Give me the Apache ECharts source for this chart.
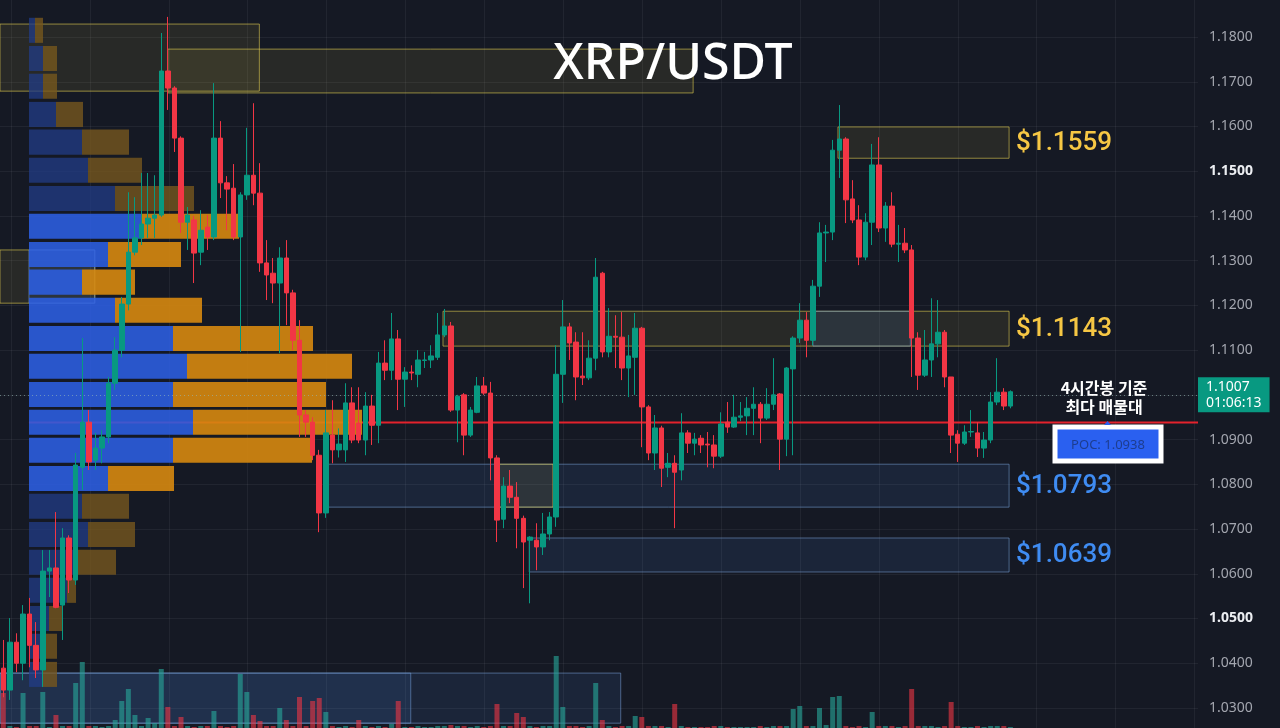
<!DOCTYPE html>
<html>
<head>
<meta charset="utf-8">
<title>XRP/USDT</title>
<script src="https://cdn.jsdelivr.net/npm/echarts@6/dist/echarts.min.js"></script>
<style>
html, body { margin: 0; padding: 0; background: #151924; }
#chart { width: 1280px; height: 728px; }
</style>
</head>
<body>
<div id="chart"></div>
<script>
// 4h candles: [open, close, low, high]
var candles = [
  [1.0389,1.0340,1.0324,1.0452],[1.0340,1.0447,1.0318,1.0501],[1.0447,1.0400,1.0380,1.0467],[1.0400,1.0510,1.0362,1.0530],
  [1.0510,1.0440,1.0391,1.0546],[1.0440,1.0385,1.0367,1.0492],[1.0385,1.0606,1.0347,1.0653],[1.0606,1.0613,1.0548,1.0653],
  [1.0613,1.0525,1.0523,1.0738],[1.0530,1.0680,1.0452,1.0702],[1.0680,1.0586,1.0557,1.0686],[1.0586,1.0843,1.0575,1.0870],
  [1.0838,1.0939,1.0787,1.1127],[1.0939,1.0850,1.0832,1.0966],[1.0854,1.0881,1.0832,1.0915],[1.0881,1.0906,1.0847,1.0921],
  [1.0906,1.1026,1.0892,1.1040],[1.1026,1.1100,1.1011,1.1129],[1.1100,1.1203,1.1084,1.1219],[1.1203,1.1319,1.1189,1.1453],
  [1.1319,1.1351,1.1312,1.1442],[1.1351,1.1382,1.1335,1.1496],[1.1382,1.1395,1.1351,1.1496],[1.1395,1.1402,1.1351,1.1491],
  [1.1402,1.1724,1.1398,1.1809],[1.1724,1.1686,1.1637,1.1845],[1.1686,1.1574,1.1543,1.1690],[1.1574,1.1386,1.1362,1.1578],
  [1.1386,1.1402,1.1324,1.1420],[1.1391,1.1317,1.1250,1.1400],[1.1319,1.1368,1.1290,1.1413],[1.1375,1.1353,1.1324,1.1402],
  [1.1353,1.1574,1.1346,1.1697],[1.1574,1.1474,1.1440,1.1612],[1.1474,1.1460,1.1368,1.1489],[1.1462,1.1353,1.1346,1.1516],
  [1.1353,1.1447,1.1096,1.1453],[1.1447,1.1491,1.1436,1.1597],[1.1491,1.1451,1.1424,1.1652],[1.1451,1.1295,1.1275,1.1518],
  [1.1295,1.1268,1.1212,1.1346],[1.1272,1.1250,1.1205,1.1306],[1.1250,1.1306,1.1093,1.1330],[1.1306,1.1228,1.1156,1.1346],
  [1.1228,1.1122,1.1100,1.1235],[1.1122,1.0955,1.0906,1.1167],[1.0955,1.0939,1.0906,1.0966],[1.0939,1.0865,1.0854,1.0950],
  [1.0865,1.0736,1.0693,1.0877],[1.0736,1.0915,1.0725,1.0966],[1.0910,1.0877,1.0847,1.0988],[1.0877,1.0890,1.0860,1.0925],
  [1.0877,1.0982,1.0850,1.1026],[1.0982,1.0899,1.0892,1.1017],[1.0937,1.0899,1.0892,1.1017],[1.0899,1.0975,1.0865,1.1006],
  [1.0975,1.0932,1.0888,1.1000],[1.0932,1.1071,1.0892,1.1096],[1.1071,1.1055,1.1033,1.1122],[1.1055,1.1125,1.1033,1.1183],
  [1.1125,1.1035,1.0966,1.1145],[1.1035,1.1051,1.0973,1.1062],[1.1051,1.1049,1.1033,1.1066],[1.1046,1.1078,1.1017,1.1100],
  [1.1077,1.1078,1.1060,1.1096],[1.1078,1.1087,1.1060,1.1111],[1.1084,1.1134,1.1078,1.1183],[1.1134,1.1154,1.1129,1.1192],
  [1.1154,1.0966,1.0962,1.1163],[1.0966,1.0997,1.0894,1.1000],[1.1000,1.0910,1.0865,1.1004],[1.0910,1.0966,1.0906,1.0973],
  [1.0961,1.1020,1.0959,1.1040],[1.1020,1.1004,1.1000,1.1040],[1.1004,1.0859,1.0809,1.1029],[1.0859,1.0720,1.0671,1.0865],
  [1.0722,1.0796,1.0702,1.0816],[1.0796,1.0771,1.0758,1.0832],[1.0771,1.0724,1.0657,1.0805],[1.0724,1.0671,1.0568,1.0730],
  [1.0675,1.0682,1.0534,1.0684],[1.0675,1.0660,1.0608,1.0713],[1.0660,1.0689,1.0642,1.0736],[1.0689,1.0727,1.0675,1.0738],
  [1.0727,1.1046,1.0705,1.1111],[1.1046,1.1152,1.0982,1.1212],[1.1152,1.1116,1.1078,1.1161],[1.1118,1.1040,1.0988,1.1140],
  [1.1042,1.1038,1.1022,1.1140],[1.1038,1.1082,1.1033,1.1122],[1.1082,1.1263,1.1055,1.1306],[1.1272,1.1096,1.1084,1.1275],
  [1.1096,1.1131,1.1084,1.1194],[1.1131,1.1129,1.1060,1.1178],[1.1129,1.1060,1.1033,1.1185],[1.1060,1.1087,1.0995,1.1134],
  [1.1084,1.1149,1.1000,1.1183],[1.1149,1.0973,1.0883,1.1152],[1.0973,1.0870,1.0854,1.0977],[1.0870,1.0926,1.0832,1.0955],
  [1.0926,1.0836,1.0794,1.0931],[1.0838,1.0847,1.0816,1.0870],[1.0847,1.0827,1.0702,1.0865],[1.0832,1.0915,1.0809,1.0959],
  [1.0915,1.0892,1.0870,1.0921],[1.0892,1.0901,1.0865,1.0915],[1.0903,1.0888,1.0870,1.0910],[1.0890,1.0888,1.0838,1.0917],
  [1.0888,1.0863,1.0836,1.0910],[1.0863,1.0935,1.0859,1.0961],[1.0939,1.0928,1.0915,1.0984],[1.0928,1.0950,1.0926,1.1000],
  [1.0950,1.0953,1.0941,1.0984],[1.0953,1.0970,1.0910,1.0995],[1.0970,1.0979,1.0910,1.1017],[1.0979,1.0948,1.0892,1.0984],
  [1.0948,1.0979,1.0944,1.1015],[1.0979,1.1000,1.0966,1.1082],[1.1002,1.0901,1.0832,1.1004],[1.0901,1.1060,1.0863,1.1062],
  [1.1058,1.1127,1.0865,1.1131],[1.1127,1.1167,1.1116,1.1205],[1.1167,1.1122,1.1084,1.1185],[1.1122,1.1243,1.1111,1.1257],
  [1.1243,1.1362,1.1219,1.1386],[1.1362,1.1364,1.1297,1.1380],[1.1364,1.1547,1.1346,1.1570],[1.1547,1.1572,1.1485,1.1648],
  [1.1572,1.1436,1.1384,1.1576],[1.1438,1.1391,1.1384,1.1480],[1.1391,1.1308,1.1290,1.1424],[1.1308,1.1386,1.1301,1.1406],
  [1.1386,1.1514,1.1335,1.1561],[1.1514,1.1373,1.1364,1.1576],[1.1373,1.1422,1.1342,1.1431],[1.1422,1.1337,1.1330,1.1453],
  [1.1337,1.1339,1.1297,1.1380],[1.1339,1.1324,1.1317,1.1373],[1.1324,1.1127,1.1040,1.1335],[1.1127,1.1044,1.1011,1.1140],
  [1.1044,1.1078,1.1040,1.1145],[1.1078,1.1114,1.1040,1.1216],[1.1114,1.1140,1.1084,1.1212],[1.1140,1.1040,1.1017,1.1145],
  [1.1040,1.0910,1.0870,1.1040],[1.0912,1.0892,1.0850,1.0921],[1.0892,1.0917,1.0888,1.0932],[1.0917,1.0918,1.0906,1.0966],
  [1.0915,1.0881,1.0861,1.0939],[1.0881,1.0899,1.0859,1.0917],[1.0899,1.0984,1.0892,1.1006],[1.0984,1.1006,1.0977,1.1082],
  [1.1006,1.0975,1.0966,1.1015],[1.0975,1.1007,1.0970,1.1010]
];

var volumes = [
  35,2,1,35,2,2,36,1,13,2, 2,45,66,2,2,1,2,8,27,39,
  13,2,10,5,59,21,2,11,2,1, 2,2,17,2,1,2,54,36,13,7,
  2,2,20,8,2,31,2,27,30,16, 2,1,2,1,8,2,1,2,1,4,
  27,1,1,2,1,1,2,2,3,2, 2,1,2,1,2,24,2,2,15,11,
  2,1,2,2,72,21,2,2,1,2, 45,8,2,1,2,2,12,11,2,2,
  2,1,24,2,1,1,1,1,2,2, 1,1,1,1,1,2,1,2,2,2,
  19,22,2,2,20,3,31,32,2,1, 2,1,16,2,2,2,1,2,39,2,
  2,2,1,2,26,2,1,1,2,1, 2,2,2,1
];

var lastPrice = 1.1007;
var lastTimer = '01:06:13';
var pocPrice = 1.0938;

// visible range volume profile: row centre price, buy and sell volume
var profileLevels = [1.1815,1.1752,1.1690,1.1627,1.1565,1.1502,1.1439,1.1377,1.1314,1.1252,1.1189,1.1126,
                     1.1064,1.1001,1.0939,1.0876,1.0813,1.0751,1.0688,1.0626,1.0563,1.0500,1.0438,1.0375];
var profileBuy  = [6,14,14,27,53,59,86,113,79,53,86,144,158,144,164,144,79,53,59,49,38,20,17,14];
var profileSell = [8,14,14,27,47,54,79,97,73,53,87,140,165,153,169,139,66,47,47,38,9,13,11,14];
var valueArea = [7, 16];

// zones: [from bar, to bar, top, bottom, kind, label]
var zones = [
  [-0.5, 38.9, 1.1829, 1.1679, 'y', ''],
  [25, 104.8, 1.1773, 1.1675, 'y', ''],
  [-0.5, 13.9, 1.1324, 1.1205, 'y', ''],
  [3.9, 13.9, 1.1324, 1.1205, 'b', ''],
  [66.8, 152.8, 1.1187, 1.1109, 'y', '$1.1143'],
  [123, 137.8, 1.1187, 1.1109, 'b', ''],
  [126.8, 152.8, 1.1599, 1.1529, 'y', '$1.1559'],
  [49.3, 152.8, 1.0845, 1.0749, 'b', '$1.0793'],
  [75, 83.5, 1.0845, 1.0749, 'y', ''],
  [79.9, 152.8, 1.0680, 1.0604, 'b', '$1.0639'],
  [-0.5, 61.9, 1.0378, 1.0266, 'b', ''],
  [-0.5, 93.8, 1.0378, 1.0266, 'b', '']
];

var totalBars = 182;
var up = '#089981', down = '#f23645';

var zoneStyle = {
  y: {fill: 'rgba(235,215,80,0.09)', stroke: 'rgba(225,205,80,0.6)', text: '#f6c744'},
  b: {fill: 'rgba(70,130,210,0.12)', stroke: 'rgba(120,160,215,0.55)', text: '#3f8cf2'}
};

var cats = [];
for (var i = 0; i < totalBars; i++) cats.push(String(i));

var chart = echarts.init(document.getElementById('chart'));

var option = {
  backgroundColor: '#151924',
  animation: false,
  grid: [
    {left: 0, right: 82, top: -7.7, bottom: -24.7, outerBoundsMode: 'none', containLabel: false},
    {left: 0, right: 82, top: 648, bottom: 0, outerBoundsMode: 'none', containLabel: false},
    {left: 11, right: 85.5, top: 0, bottom: 0, outerBoundsMode: 'none', containLabel: false}
  ],
  xAxis: [
    {type: 'category', gridIndex: 0, data: cats, show: false},
    {type: 'value', gridIndex: 0, min: -0.5, max: totalBars - 0.5, show: false},
    {type: 'value', gridIndex: 0, min: -29, max: 1169, show: false},
    {type: 'category', gridIndex: 1, data: cats, show: false},
    {type: 'value', gridIndex: 2, min: 0, max: 15, interval: 1, axisLine: {show: false}, axisTick: {show: false},
     axisLabel: {show: false}, splitLine: {show: true, lineStyle: {color: 'rgba(255,255,255,0.055)'}}}
  ],
  yAxis: [
    {
      type: 'value', gridIndex: 0, position: 'right', min: 1.02, max: 1.19, interval: 0.01,
      axisLine: {show: false}, axisTick: {show: false},
      splitLine: {lineStyle: {color: 'rgba(255,255,255,0.055)'}},
      axisLabel: {
        margin: 11, color: '#a3a6af', fontSize: 14, fontFamily: 'Noto Sans',
        formatter: function (v) {
          var s = v.toFixed(4);
          return (s === '1.1500' || s === '1.0500') ? '{b|' + s + '}' : s;
        },
        rich: {b: {color: '#eceef2', fontWeight: 'bold', fontSize: 14, fontFamily: 'Noto Sans'}}
      }
    },
    {type: 'value', gridIndex: 1, min: 0, max: 80, show: false},
    {type: 'value', gridIndex: 2, min: 0, max: 1, show: false}
  ],
  graphic: [
    {type: 'text', x: 673, y: 65, z: 50, style: {text: 'XRP/USDT', fill: '#ffffff', font: '500 50px "Noto Sans"', align: 'center', verticalAlign: 'middle'}},
    {type: 'text', x: 1104, y: 388, z: 50, style: {text: '4시간봉 기준', fill: '#ffffff', font: 'bold 16px "Noto Sans CJK KR"', align: 'center', verticalAlign: 'middle'}},
    {type: 'text', x: 1104, y: 407, z: 50, style: {text: '최다 매물대', fill: '#ffffff', font: 'bold 16px "Noto Sans CJK KR"', align: 'center', verticalAlign: 'middle'}},
    {type: 'rect', z: 50, shape: {x: 1055, y: 427, width: 106, height: 34}, style: {fill: '#2a60f0', stroke: '#ffffff', lineWidth: 5}},
    {type: 'text', x: 1108, y: 445, z: 51, style: {text: 'POC: 1.0938', fill: '#1d3d8f', font: '13px "Noto Sans"', align: 'center', verticalAlign: 'middle'}},
    {type: 'polygon', z: 50, shape: {points: [[1104, 425], [1111, 425], [1107.5, 421]]}, style: {fill: '#2a60f0'}}
  ],
  series: [
    {
      type: 'line', xAxisIndex: 4, yAxisIndex: 2, data: [], silent: true
    },
    {
      type: 'custom', xAxisIndex: 1, yAxisIndex: 0, z: 1, silent: true,
      data: zones.map(function (z) { return [z[0], z[1], z[2], z[3]]; }),
      encode: {x: [0, 1], y: [2, 3]},
      renderItem: function (params, api) {
        var z = zones[params.dataIndex];
        var st = zoneStyle[z[4]];
        var a = api.coord([z[0], z[2]]);
        var b = api.coord([z[1], z[3]]);
        var children = [{
          type: 'rect',
          shape: {x: a[0], y: a[1], width: b[0] - a[0], height: b[1] - a[1]},
          style: {fill: st.fill, stroke: st.stroke, lineWidth: 1}
        }];
        if (z[5]) {
          children.push({
            type: 'text', x: b[0] + 7, y: (a[1] + b[1]) / 2 + 1,
            style: {text: z[5], fill: st.text, font: '500 26px Roboto', verticalAlign: 'middle'}
          });
        }
        return {type: 'group', children: children};
      }
    },
    {
      type: 'line', xAxisIndex: 1, yAxisIndex: 0, z: 2, silent: true, symbol: 'none',
      data: [[3.9, pocPrice], [totalBars - 0.5, pocPrice]],
      lineStyle: {color: '#e3222c', width: 2}
    },
    {
      type: 'custom', xAxisIndex: 2, yAxisIndex: 0, z: 3, silent: true,
      data: profileLevels.map(function (p, k) { return [profileBuy[k], profileSell[k], p]; }),
      encode: {x: 0, y: 2},
      renderItem: function (params, api) {
        var k = params.dataIndex;
        var p = profileLevels[k], half = 0.0028;
        var inVA = k >= valueArea[0] && k <= valueArea[1];
        var top = api.coord([0, p + half]);
        var bot = api.coord([0, p - half]);
        var xb = api.coord([profileBuy[k], p])[0];
        var xs = api.coord([profileBuy[k] + profileSell[k], p])[0];
        return {type: 'group', children: [
          {type: 'rect', shape: {x: top[0], y: top[1], width: xb - top[0], height: bot[1] - top[1]},
           style: {fill: inVA ? 'rgba(44,94,226,0.88)' : 'rgba(34,60,135,0.75)'}},
          {type: 'rect', shape: {x: xb, y: top[1], width: xs - xb, height: bot[1] - top[1]},
           style: {fill: inVA ? 'rgba(214,136,16,0.9)' : 'rgba(120,88,30,0.78)'}}
        ]};
      }
    },
    {
      type: 'bar', xAxisIndex: 3, yAxisIndex: 1, z: 4, silent: true, barWidth: 5,
      data: volumes.map(function (v, i) {
        var c = candles[i];
        return {value: v, itemStyle: {color: c[1] >= c[0] ? 'rgba(38,166,154,0.62)' : 'rgba(242,54,69,0.6)'}};
      })
    },
    {
      type: 'candlestick', xAxisIndex: 0, yAxisIndex: 0, z: 5, silent: true, barWidth: 5,
      data: candles,
      itemStyle: {color: up, color0: down, borderColor: up, borderColor0: down, borderWidth: 1},
      markLine: {
        symbol: 'none', silent: true, animation: false,
        data: [{yAxis: lastPrice}],
        lineStyle: {color: 'rgba(150,185,180,0.6)', type: [1, 3], width: 1},
        label: {
          position: 'end', distance: 0,
          formatter: lastPrice.toFixed(4) + '\n' + lastTimer,
          backgroundColor: up, color: '#ffffff', fontSize: 14, lineHeight: 16,
          fontFamily: 'Noto Sans', padding: [2, 8, 1, 8], align: 'left'
        },
        emphasis: {disabled: true}
      }
    }
  ]
};

chart.setOption(option);
</script>
</body>
</html>
